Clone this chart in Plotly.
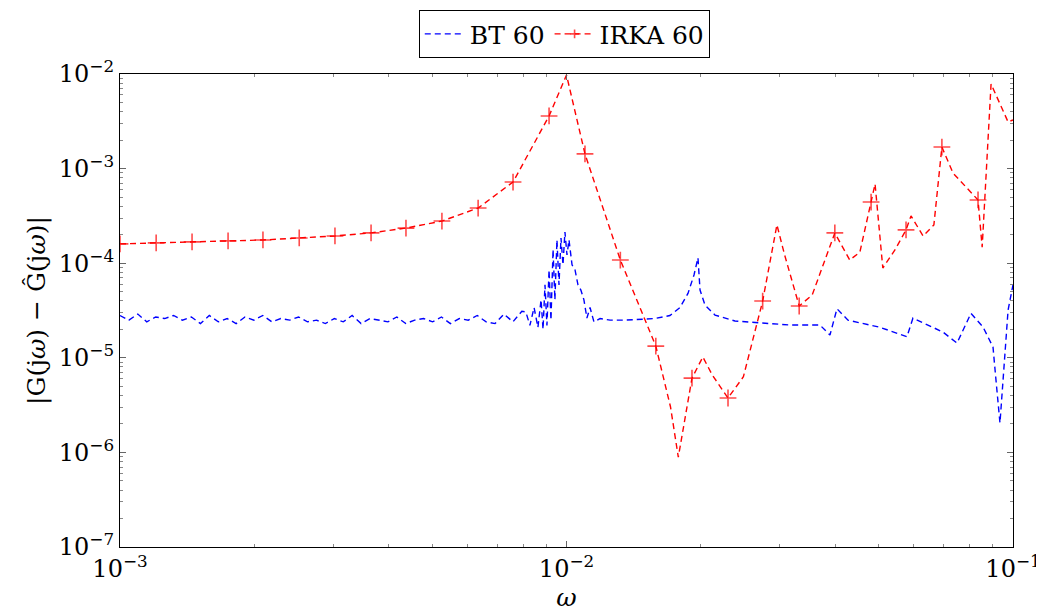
import plotly.graph_objects as go

# ---------------- data ----------------
irka_omega = [1.0e-3, 1.205e-3, 1.45e-3, 1.746e-3, 2.09e-3, 2.52e-3, 3.03e-3, 3.65e-3,
              4.37e-3, 5.26e-3, 6.34e-3, 7.59e-3, 9.14e-3, 1.0e-2, 1.10e-2, 1.32e-2,
              1.585e-2, 1.71e-2, 1.78e-2, 1.91e-2, 2.02e-2, 2.12e-2, 2.30e-2, 2.49e-2,
              2.75e-2, 2.96e-2, 3.08e-2, 3.32e-2, 3.55e-2, 3.99e-2, 4.31e-2, 4.54e-2,
              4.81e-2, 4.91e-2, 5.11e-2, 5.44e-2, 5.76e-2, 5.91e-2, 6.29e-2, 6.65e-2,
              6.93e-2, 7.34e-2, 8.35e-2, 8.53e-2, 8.93e-2, 9.75e-2, 1.0e-1]
irka_err = [1.60e-4, 1.64e-4, 1.68e-4, 1.72e-4, 1.76e-4, 1.85e-4, 1.94e-4, 2.09e-4,
            2.35e-4, 2.79e-4, 3.83e-4, 7.21e-4, 3.60e-3, 9.75e-3, 1.43e-3, 1.08e-4,
            1.33e-5, 3.02e-6, 8.9e-7, 6.1e-6, 1.02e-5, 6.6e-6, 3.76e-6, 6.3e-6,
            3.98e-5, 2.54e-4, 1.22e-4, 3.53e-5, 4.61e-5, 2.09e-4, 1.08e-4, 1.31e-4,
            4.43e-4, 6.88e-4, 8.9e-5, 1.38e-4, 2.25e-4, 3.16e-4, 1.94e-4, 2.54e-4,
            1.69e-3, 8.97e-4, 4.66e-4, 1.48e-4, 7.84e-3, 3.11e-3, 3.27e-3]
# 1 = point carries a "+" mark
irka_mark = [1, 1, 1, 1, 1, 1, 1, 1,
             1, 1, 1, 1, 1, 0, 1, 1,
             1, 0, 0, 1, 0, 0, 1, 0,
             1, 0, 0, 1, 0, 1, 0, 0,
             1, 0, 0, 0, 1, 0, 0, 0,
             1, 0, 1, 0, 0, 0, 0]

bt_omega = [1.000e-3, 1.047e-3, 1.096e-3, 1.148e-3, 1.202e-3, 1.259e-3, 1.318e-3, 1.380e-3,
            1.445e-3, 1.514e-3, 1.585e-3, 1.660e-3, 1.738e-3, 1.820e-3, 1.905e-3, 1.995e-3,
            2.089e-3, 2.188e-3, 2.291e-3, 2.399e-3, 2.512e-3, 2.630e-3, 2.754e-3, 2.884e-3,
            3.020e-3, 3.162e-3, 3.311e-3, 3.467e-3, 3.631e-3, 3.802e-3, 3.981e-3, 4.169e-3,
            4.365e-3, 4.571e-3, 4.786e-3, 5.012e-3, 5.248e-3, 5.495e-3, 5.754e-3, 6.026e-3,
            6.310e-3, 6.607e-3, 6.918e-3, 7.244e-3, 7.586e-3, 7.943e-3,
            8.11e-3, 8.28e-3, 8.46e-3, 8.63e-3, 8.77e-3, 8.86e-3, 8.95e-3, 9.04e-3,
            9.14e-3, 9.23e-3, 9.33e-3, 9.42e-3, 9.52e-3, 9.62e-3, 9.72e-3, 9.82e-3,
            9.92e-3, 1.0025e-2, 1.013e-2, 1.029e-2, 1.045e-2, 1.061e-2, 1.077e-2, 1.094e-2,
            1.111e-2, 1.129e-2, 1.152e-2, 1.189e-2,
            1.252e-2, 1.352e-2, 1.461e-2, 1.578e-2, 1.705e-2, 1.795e-2, 1.871e-2, 1.930e-2,
            1.970e-2, 1.991e-2, 2.043e-2, 2.151e-2, 2.384e-2, 2.712e-2, 3.166e-2, 3.695e-2,
            3.891e-2, 4.034e-2, 4.270e-2, 5.036e-2, 5.788e-2, 5.970e-2, 6.968e-2, 7.492e-2,
            8.05e-2, 8.565e-2, 9.02e-2, 9.16e-2, 9.35e-2, 9.50e-2, 9.75e-2, 1.0e-1]
bt_err = [2.8e-5, 2.5e-5, 2.9e-5, 2.4e-5, 2.7e-5, 2.6e-5, 2.8e-5, 2.5e-5,
          2.7e-5, 2.3e-5, 2.8e-5, 2.4e-5, 2.6e-5, 2.3e-5, 2.7e-5, 2.5e-5,
          2.8e-5, 2.4e-5, 2.6e-5, 2.5e-5, 2.7e-5, 2.4e-5, 2.5e-5, 2.3e-5,
          2.6e-5, 2.4e-5, 2.8e-5, 2.3e-5, 2.6e-5, 2.5e-5, 2.4e-5, 2.7e-5,
          2.3e-5, 2.5e-5, 2.6e-5, 2.4e-5, 2.7e-5, 2.3e-5, 2.6e-5, 2.5e-5,
          2.8e-5, 2.4e-5, 2.3e-5, 2.9e-5, 2.4e-5, 3.1e-5,
          3.05e-5, 2.2e-5, 3.4e-5, 2.1e-5, 4.1e-5, 2.0e-5, 5.9e-5, 2.2e-5,
          8.5e-5, 2.5e-5, 1.4e-4, 4.1e-5, 1.76e-4, 5.9e-5, 1.85e-4, 9.6e-5,
          2.14e-4, 1.22e-4, 1.76e-4, 9.6e-5, 8.5e-5, 5.9e-5, 5.2e-5, 4.1e-5,
          2.63e-5, 3.4e-5, 2.4e-5, 2.6e-5,
          2.5e-5, 2.5e-5, 2.55e-5, 2.6e-5, 2.8e-5, 3.4e-5, 4.8e-5, 7.5e-5,
          1.14e-4, 5.2e-5, 3.6e-5, 2.83e-5, 2.45e-5, 2.34e-5, 2.22e-5, 2.22e-5,
          1.74e-5, 3.3e-5, 2.5e-5, 2.1e-5, 1.67e-5, 2.63e-5, 1.87e-5, 1.43e-5,
          2.95e-5, 2.12e-5, 1.30e-5, 5.8e-6, 2.05e-6, 5.8e-6, 3.2e-5, 5.9e-5]

x_tickvals = [1e-3, 1e-2, 1e-1]
x_ticktext = ["10<sup>−3</sup>", "10<sup>−2</sup>", "10<sup>−1</sup>"]
y_tickvals = [1e-7, 1e-6, 1e-5, 1e-4, 1e-3, 1e-2]
y_ticktext = ["10<sup>−7</sup>", "10<sup>−6</sup>", "10<sup>−5</sup>",
              "10<sup>−4</sup>", "10<sup>−3</sup>", "10<sup>−2</sup>"]
minor_mult = [2, 3, 4, 5, 6, 7, 8, 9]

# ---------------- figure ----------------
FONT = "DejaVu Serif"
fig = go.Figure()
fig.add_trace(go.Scatter(
    x=bt_omega, y=bt_err, name="BT 60", mode="lines",
    line=dict(color="#0000ff", width=1.4, dash="6px,4px"),
))
fig.add_trace(go.Scatter(
    x=irka_omega, y=irka_err, name="IRKA 60", mode="lines+markers",
    line=dict(color="#ff0000", width=1.4, dash="6px,4px"),
    marker=dict(symbol="cross-thin", size=[12 if m else 0 for m in irka_mark],
                color="#ff0000", line=dict(color="#ff0000", width=1.6)),
))

x_minor = [m * d for d in [1e-3, 1e-2] for m in minor_mult]
y_minor = [m * d for d in [1e-7, 1e-6, 1e-5, 1e-4, 1e-3] for m in minor_mult]

axis_common = dict(
    type="log", showgrid=False, zeroline=False, showline=True,
    linecolor="#000000", linewidth=1.2, mirror="allticks", automargin=False,
    ticks="inside", ticklen=6, tickwidth=1, tickcolor="#666666",
    tickfont=dict(family=FONT, size=24, color="#000000"),
)
fig.update_xaxes(
    **axis_common, range=[-3, -1], tickmode="array",
    tickvals=x_tickvals, ticktext=x_ticktext,
    minor=dict(tickmode="array", tickvals=x_minor, ticks="inside", ticklen=3,
               tickcolor="#888888", showgrid=False),
    title=dict(text="<i>ω</i>", font=dict(family=FONT, size=25, color="#000000"), standoff=0),
)
fig.update_yaxes(
    **axis_common, range=[-7, -2], tickmode="array",
    tickvals=y_tickvals, ticktext=y_ticktext,
    minor=dict(tickmode="array", tickvals=y_minor, ticks="inside", ticklen=3,
               tickcolor="#888888", showgrid=False),
    title=dict(text="|G(j<i>ω</i>) − Ĝ(j<i>ω</i>)|",
               font=dict(family=FONT, size=25, color="#000000"), standoff=6),
)
# page body has an 8px margin, so the figure is sized/offset to compensate
fig.update_layout(
    width=1036, height=608,
    margin=dict(l=112, r=31, t=66, b=69, autoexpand=False),
    paper_bgcolor="white", plot_bgcolor="white",
    showlegend=True,
    legend=dict(orientation="h", x=0.4975, xanchor="center", y=1.135, yanchor="top",
                bordercolor="#000000", borderwidth=1, bgcolor="white",
                font=dict(family=FONT, size=25, color="#000000"),
                itemwidth=40, tracegroupgap=0),
)
fig.write_html("out.html")
